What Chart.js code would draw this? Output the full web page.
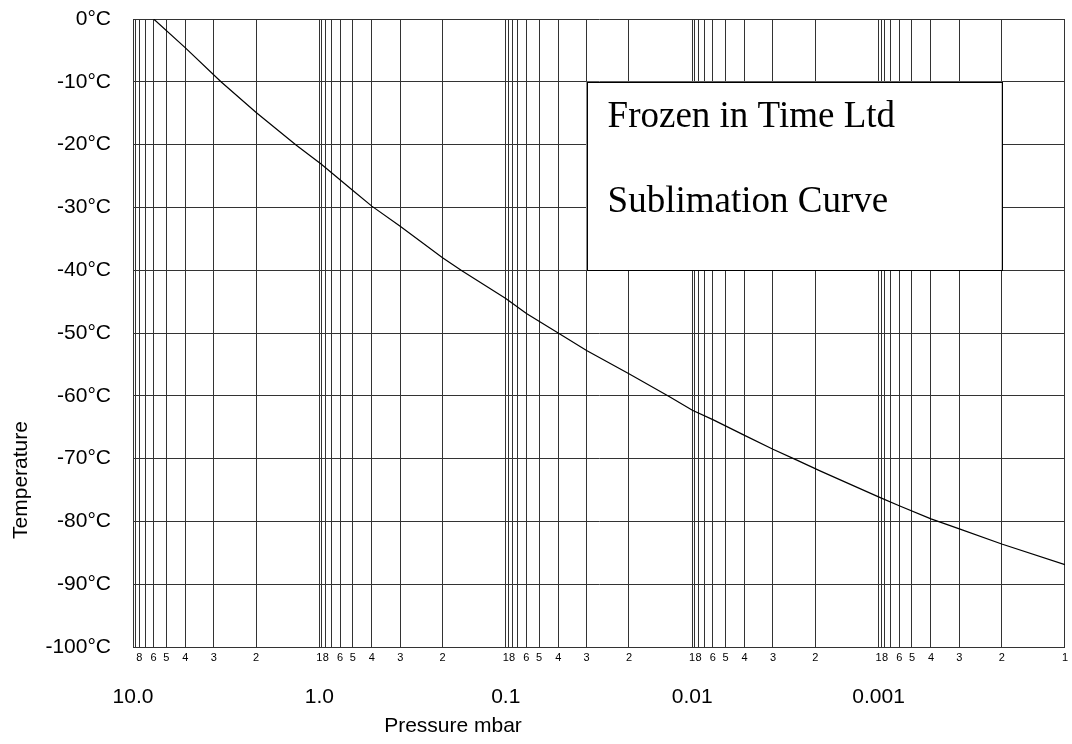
<!DOCTYPE html>
<html>
<head>
<meta charset="utf-8">
<title>Sublimation Curve</title>
<script src="https://cdn.jsdelivr.net/npm/chart.js@4.4.1/dist/chart.umd.min.js"></script>
<style>
  html, body { margin: 0; padding: 0; background: #fff; }
  #wrap { width: 1072px; height: 744px; position: relative; }
</style>
</head>
<body>
<div id="wrap"><canvas id="chart"></canvas></div>
<script>
// curve: pressure (mbar) against temperature (°C)
const pressure = [6, 4, 2.8, 2, 1.32, 0.93, 0.49, 0.4, 0.3, 0.2, 0.165, 0.1, 0.06, 0.04, 0.03,
    0.02, 0.0132, 0.0099, 0.006, 0.004, 0.003, 0.0024, 0.0019, 0.001, 0.0006, 0.0004, 0.0003,
    0.0002, 0.0001];
const temperature = [0, -4.6, -10, -14.9, -20.1, -23.1, -27.5, -29.8, -33.0, -38.0, -40.1, -44.5,
    -46.9, -50.0, -52.8, -56.5, -60.1, -62.3, -63.8, -66.3, -68.5, -70.2, -72.0, -76.1, -77.5,
    -79.6, -81.2, -83.6, -86.9];

// axis ticks
const decadeTops = [10, 1, 0.1, 0.01, 0.001];
const decadeLabels = ['10.0', '1.0', '0.1', '0.01', '0.001'];
const minorSteps = [9, 8, 7, 6, 5, 4, 3, 2, 1];
const minorLabels = ['', '8', '', '6', '5', '4', '3', '2', '1'];

const boxLines = ['Frozen in Time Ltd', 'Sublimation Curve'];
const boxPressure = [0.03, 0.0002];
const boxTemp = [-10, -40];

// every gridline of the pressure axis, with its small label
const minorValues = [10];
const minorText = [''];
decadeTops.forEach(top => {
    minorSteps.forEach((s, i) => {
        minorValues.push(top / 10 * s);
        minorText.push(minorLabels[i]);
    });
});

// the printed sheet is not a true log scale: inside each decade the
// lines bunch up towards the high end, roughly geometrically
const SPREAD = 0.67;
function decadePos(p) {
    const d = Math.floor(Math.log10(p) + 1e-9);
    const m = p / Math.pow(10, d);
    return d + (1 - Math.pow(SPREAD, m - 1)) / (1 - Math.pow(SPREAD, 9));
}
function decadeValue(u) {
    const d = Math.floor(u);
    const f = u - d;
    const m = 1 + Math.log(1 - f * (1 - Math.pow(SPREAD, 9))) / Math.log(SPREAD);
    return m * Math.pow(10, d);
}

class DecadeScale extends Chart.LinearScale {
    getPixelForValue(value) {
        if (!(value > 0)) return NaN;
        const hi = decadePos(this.options.max);
        const lo = decadePos(this.options.min);
        return this.getPixelForDecimal((hi - decadePos(value)) / (hi - lo));
    }
    getValueForPixel(pixel) {
        const hi = decadePos(this.options.max);
        const lo = decadePos(this.options.min);
        return decadeValue(hi - this.getDecimalForPixel(pixel) * (hi - lo));
    }
}
DecadeScale.id = 'decade';
DecadeScale.defaults = Chart.LinearScale.defaults;
Chart.register(DecadeScale);

const sansFont = '"Liberation Sans", Arial, sans-serif';
const serifFont = '"Liberation Serif", "Times New Roman", serif';
const gridColor = '#333333';

const overlay = {
    id: 'overlay',
    afterDatasetsDraw(chart) {
        const { ctx, chartArea, scales } = chart;
        const left = scales.x.getPixelForValue(boxPressure[0]);
        const right = scales.x.getPixelForValue(boxPressure[1]);
        const top = scales.y.getPixelForValue(boxTemp[0]);
        const bottom = scales.y.getPixelForValue(boxTemp[1]);
        ctx.save();
        ctx.fillStyle = '#ffffff';
        ctx.fillRect(left, top, right - left, bottom - top);
        ctx.strokeStyle = '#000000';
        ctx.lineWidth = 1;
        ctx.strokeRect(Math.round(left) + 0.5, Math.round(top) + 0.5,
            Math.round(right - left), Math.round(bottom - top));
        ctx.fillStyle = '#000000';
        ctx.font = '37px ' + serifFont;
        ctx.textBaseline = 'alphabetic';
        ctx.fillText(boxLines[0], left + 21, top + 45);
        ctx.fillText(boxLines[1], left + 21, top + 130);

        // axis titles
        ctx.font = '21px ' + sansFont;
        ctx.textAlign = 'center';
        ctx.textBaseline = 'middle';
        ctx.fillText('Pressure mbar', chartArea.left + 320, 726);
        ctx.translate(21, chartArea.top + 461);
        ctx.rotate(-Math.PI / 2);
        ctx.fillText('Temperature', 0, 0);
        ctx.restore();
    }
};

new Chart(document.getElementById('chart'), {
    type: 'line',
    data: {
        datasets: [{
            data: pressure.map((p, i) => ({ x: p, y: temperature[i] })),
            borderColor: '#000000',
            borderWidth: 1.2,
            pointRadius: 0,
            tension: 0,
            fill: false
        }]
    },
    options: {
        responsive: true,
        maintainAspectRatio: false,
        animation: false,
        events: [],
        layout: {
            padding: { top: 19, right: 6, bottom: 0, left: 0 }
        },
        plugins: {
            legend: { display: false },
            tooltip: { enabled: false }
        },
        scales: {
            x: {
                type: 'decade',
                position: 'bottom',
                weight: 0,
                min: 0.0001,
                max: 10,
                bounds: 'data',
                afterBuildTicks: scale => {
                    scale.ticks = minorValues.map(v => ({ value: v }));
                },
                afterFit: scale => { scale.height = 24; },
                grid: { color: gridColor, lineWidth: 1, drawTicks: false },
                border: { color: gridColor },
                ticks: {
                    autoSkip: false,
                    maxRotation: 0,
                    padding: 4,
                    color: '#000000',
                    font: { family: sansFont, size: 11 },
                    callback: (value, index) => minorText[index]
                }
            },
            x2: {
                type: 'decade',
                position: 'bottom',
                weight: 1,
                min: 0.0001,
                max: 10,
                bounds: 'data',
                afterBuildTicks: scale => {
                    scale.ticks = decadeTops.map(v => ({ value: v }));
                },
                afterFit: scale => { scale.height = 73; },
                grid: { display: false, drawTicks: false },
                border: { display: false },
                ticks: {
                    autoSkip: false,
                    maxRotation: 0,
                    padding: 14,
                    color: '#000000',
                    font: { family: sansFont, size: 21 },
                    callback: (value, index) => decadeLabels[index]
                }
            },
            y: {
                type: 'linear',
                min: -100,
                max: 0,
                afterFit: scale => {
                    scale.width = 133;
                    scale.paddingTop = 0;
                    scale.paddingBottom = 0;
                },
                grid: { color: gridColor, lineWidth: 1, drawTicks: false },
                border: { color: gridColor },
                ticks: {
                    stepSize: 10,
                    padding: 22,
                    color: '#000000',
                    font: { family: sansFont, size: 21 },
                    callback: value => value + '°C'
                }
            }
        }
    },
    plugins: [overlay]
});
</script>
</body>
</html>
